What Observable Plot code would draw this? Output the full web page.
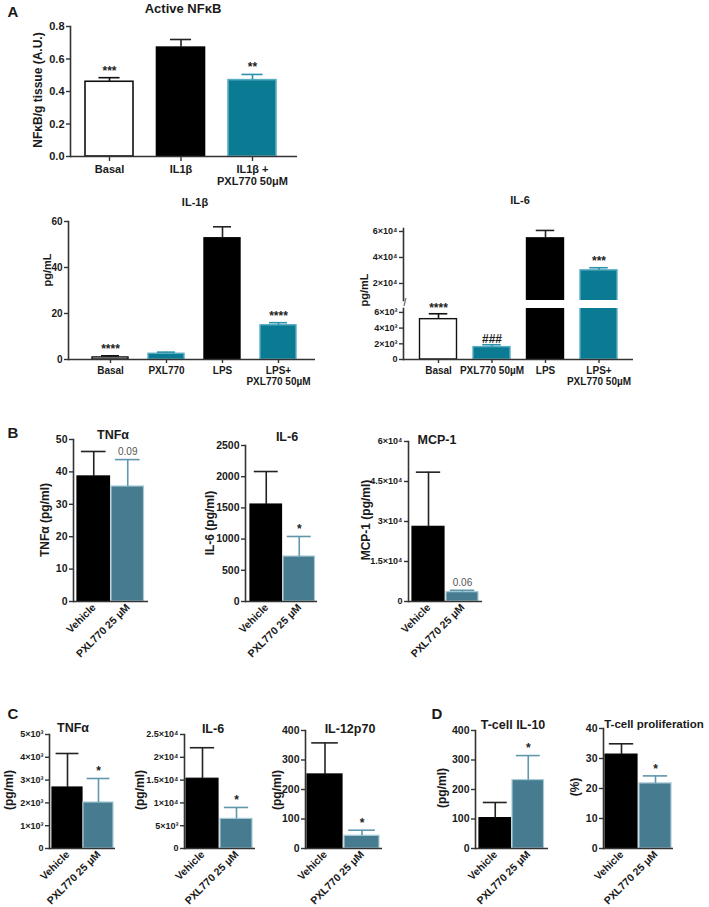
<!DOCTYPE html>
<html><head><meta charset="utf-8">
<script src="https://cdn.jsdelivr.net/npm/d3@7"></script>
<script src="https://cdn.jsdelivr.net/npm/@observablehq/plot@0.6"></script>
<style>
body{margin:0;background:#fff;}
#fig{position:relative;width:709px;height:907px;overflow:hidden;font-family:"Liberation Sans",Arial,sans-serif;color:#1a1a1a;}
#fig svg{position:absolute;overflow:visible;}
.t{position:absolute;transform:translate(-50%,-50%);white-space:nowrap;font-weight:bold;line-height:1;}
.r{transform:translate(-50%,-50%) rotate(-90deg);}
</style></head><body><div id="fig"></div>
<script>
// ---------- DATA ----------
// Panel A: Active NFkB
const nfkbCats = ["Basal", "IL1β", "IL1β +\nPXL770 50μM"];
const nfkbVals = [0.46, 0.67, 0.47];
const nfkbSems = [0.025, 0.05, 0.035];
const nfkbNotes = ["***", "", "**"];
const nfkbTicks = [0, 0.2, 0.4, 0.6, 0.8];
// Panel A: IL-1β
const il1Cats = ["Basal", "PXL770", "LPS", "LPS+\nPXL770 50µM"];
const il1Vals = [0.9, 2.5, 52.7, 14.9];
const il1Sems = [0.7, 0.7, 5.0, 1.1];
const il1Notes = ["****", "", "", "****"];
const il1Ticks = [0, 20, 40, 60];
// Panel A: IL-6 (broken axis)
const il6aCats = ["Basal", "PXL770 50µM", "LPS", "LPS+\nPXL770 50µM"];
const il6aVals = [5140, 1580, 54700, 30100];
const il6aSems = [690, 300, 6100, 2000];
const il6aNotesHi = ["", "", "", "***"];
const il6aNotesLo = ["****", "###", "", ""];
const il6aTicksHi = [20000, 40000, 60000];
const il6aTicksLo = [0, 2000, 4000, 6000];
// Panels B, C, D: two groups
const grpCats = ["Vehicle", "PXL770 25 μM"];
const bTnfVals = [38.6, 35.5], bTnfSems = [7.7, 8.3], bTnfNotes = ["", "0.09"];
const bTnfTicks = [0, 10, 20, 30, 40, 50];
const bIl6Vals = [1554, 721], bIl6Sems = [529, 321], bIl6Notes = ["", "*"];
const bIl6Ticks = [0, 500, 1000, 1500, 2000, 2500];
const bMcpVals = [28000, 3500], bMcpSems = [20500, 700], bMcpNotes = ["", "0.06"];
const bMcpTicks = [0, 15000, 30000, 45000, 60000];
const cTnfVals = [2675, 2018], cTnfSems = [1492, 1052], cTnfNotes = ["", "*"];
const cTnfTicks = [0, 1000, 2000, 3000, 4000, 5000];
const cIl6Vals = [15300, 6500], cIl6Sems = [6800, 2500], cIl6Notes = ["", "*"];
const cIl6Ticks = [0, 5000, 10000, 15000, 20000, 25000];
const cIl12Vals = [251, 43], cIl12Sems = [107, 19], cIl12Notes = ["", "*"];
const cIl12Ticks = [0, 100, 200, 300, 400];
const dIl10Vals = [103, 232], dIl10Sems = [53, 83], dIl10Notes = ["", "*"];
const dIl10Ticks = [0, 100, 200, 300, 400];
const dProVals = [31.3, 21.7], dProSems = [3.6, 2.5], dProNotes = ["", "*"];
const dProTicks = [0, 10, 20, 30, 40];

// ---------- STYLE ----------
const WHITE = "#ffffff", BLACK = "#000000", TEAL = "#0b7b94", BLUE = "#477b90";
const style = {
  white: {fill: WHITE, stroke: "#111", ec: "#111"},
  black: {fill: BLACK, stroke: BLACK, ec: "#222"},
  teal: {fill: TEAL, stroke: "#5aaec2", ec: "#2a92ab"},
  blue: {fill: BLUE, stroke: "#a9cbd7", ec: "#5f97ad"}
};
const sup = {"0":"⁰","1":"¹","2":"²","3":"³","4":"⁴","5":"⁵","6":"⁶","7":"⁷","8":"⁸","9":"⁹"};
function sci(d) {
  if (d === 0) return "0";
  const e = Math.floor(Math.log10(d) + 1e-9);
  const m = +(d / Math.pow(10, e)).toFixed(2);
  return m + "×10" + String(e).split("").map(c => sup[c]).join("");
}
const plain = d => String(d);
const f1 = d3.format(".1f");

const fig = document.getElementById("fig");

function panel(o) {
  const left = o.ax - (o.ml ?? 55), top = o.yt - (o.mt ?? 25);
  const width = o.ex + (o.mr ?? 8) - left;
  const height = o.yb + (o.mb ?? 65) - top;
  const n = o.cats.length, p = 1 - o.W / o.S;
  const r0 = o.L - left - p * o.S, r1 = r0 + o.S * (n + p);
  const data = o.cats.map((c, i) => ({
    c, v: o.vals[i], e: o.vals[i] + o.sems[i],
    fill: o.kinds[i].fill, stroke: o.kinds[i].stroke, ec: o.kinds[i].ec,
    note: o.notes ? o.notes[i] : ""
  }));
  const y0 = o.y0 ?? 0;
  const cap = o.W * (o.capInset ?? 0.27);
  const fs = o.fs ?? 10;
  const isP = d => /^0\./.test(d.note);
  const marks = [
    Plot.barY(data, {x: "c", y: "v", fill: "fill", stroke: "stroke", strokeWidth: o.bsw ?? 1.2, clip: true}),
    Plot.ruleX(data, {x: "c", y1: "v", y2: "e", stroke: "ec", strokeWidth: 1.6, clip: true}),
    Plot.tickY(data, {x: "c", y: "e", stroke: "ec", strokeWidth: 1.6, insetLeft: cap, insetRight: cap, clip: true}),
    Plot.frame({anchor: "left", stroke: "#333", strokeWidth: 1.6}),
    Plot.axisY({ticks: o.ticks, tickFormat: o.fmt, tickSize: 4, tickPadding: 2, fontSize: o.yfs ?? fs, label: null, stroke: "#333", strokeWidth: 1.4})
  ];
  if (o.xaxis !== false) {
    marks.push(Plot.ruleY([y0], {stroke: "#333", strokeWidth: 1.6}));
    marks.push(Plot.axisX({tickSize: o.xtick ?? 0, tickPadding: o.xpad ?? 3, tickRotate: o.rot ? -45 : 0,
      fontSize: o.xfs ?? fs, label: null, stroke: "#333", strokeWidth: 1.4, lineHeight: 1.1}));
  }
  marks.push(Plot.text(data.filter(d => d.note && !isP(d)), {x: "c", y: "e", text: "note", dy: o.noteDy ?? -7,
    fill: "#222", fontWeight: "bold", fontSize: 12}));
  marks.push(Plot.text(data.filter(isP), {x: "c", y: "e", text: "note", dy: -8,
    fill: "#555", fontWeight: "normal", fontSize: 10}));
  if (o.extra) marks.push(...o.extra);
  const svg = Plot.plot({
    width, height,
    marginLeft: o.ax - left, marginRight: left + width - o.ex,
    marginTop: o.yt - top, marginBottom: top + height - o.yb,
    x: {type: "band", domain: o.cats, range: [r0, r1], padding: p, round: false, label: null, axis: null},
    y: {domain: [y0, o.ymax], label: null, axis: null},
    color: {type: "identity"},
    style: {fontFamily: "'Liberation Sans', Arial, sans-serif", fontWeight: "bold", color: "#1a1a1a", background: "transparent", overflow: "visible"},
    marks
  });
  svg.style.left = left + "px";
  svg.style.top = top + "px";
  fig.append(svg);
}

function label(text, x, y, size, rot, extra) {
  const d = document.createElement("div");
  d.className = "t" + (rot ? " r" : "");
  d.textContent = text;
  d.style.left = x + "px";
  d.style.top = y + "px";
  d.style.fontSize = size + "px";
  if (extra) Object.assign(d.style, extra);
  fig.append(d);
}

// ---------- PANEL A ----------
panel({cats: nfkbCats, vals: nfkbVals, sems: nfkbSems, notes: nfkbNotes,
  kinds: [style.white, style.black, style.teal],
  ax: 70, ex: 297, yt: 26, yb: 156, ymax: 0.8, ticks: nfkbTicks, fmt: f1,
  L: 85, W: 48, S: 71.5, xtick: 5, fs: 11, capInset: 0.28, bsw: 1.6});

panel({cats: il1Cats, vals: il1Vals, sems: il1Sems, notes: il1Notes,
  kinds: [style.white, style.teal, style.black, style.teal],
  ax: 68, ex: 315, yt: 221, yb: 359, ymax: 60, ticks: il1Ticks, fmt: plain,
  L: 92, W: 36, S: 56, xtick: 4, fs: 10, capInset: 0.25, bsw: 1.4});

// IL-6 upper segment
panel({cats: il6aCats, vals: il6aVals, sems: il6aSems, notes: il6aNotesHi,
  kinds: [style.white, style.teal, style.black, style.teal],
  ax: 403, ex: 633, yt: 228, yb: 300, y0: 6900, ymax: 62300, ticks: il6aTicksHi, fmt: sci,
  L: 419.5, W: 37, S: 53.5, xaxis: false, yfs: 9, mb: 10, capInset: 0.25, bsw: 1.4,
  extra: [Plot.text(["/"], {frameAnchor: "bottom-left", dy: 5, fontSize: 10, fontWeight: "normal", text: d => d})]});
// IL-6 lower segment
panel({cats: il6aCats, vals: il6aVals, sems: il6aSems, notes: il6aNotesLo,
  kinds: [style.white, style.teal, style.black, style.teal],
  ax: 403, ex: 633, yt: 308, yb: 359, ymax: 6500, ticks: il6aTicksLo, fmt: sci,
  L: 419.5, W: 37, S: 53.5, xtick: 4, fs: 10, yfs: 9, mt: 10, capInset: 0.25, bsw: 1.4, noteDy: -6});

label("A", 13, 11, 15);
label("Active NFκB", 183, 8, 13);
label("NFκB/g tissue (A.U.)", 38, 90, 12, true);
label("IL-1β", 195, 202, 11);
label("pg/mL", 47, 270, 11, true);
label("IL-6", 520, 200, 11);
label("pg/mL", 364, 290, 11, true);

// ---------- PANEL B ----------
panel({cats: grpCats, vals: bTnfVals, sems: bTnfSems, notes: bTnfNotes,
  kinds: [style.black, style.blue],
  ax: 73, ex: 148, yt: 439, yb: 601, ymax: 50, ticks: bTnfTicks, fmt: plain,
  L: 77, W: 32.5, S: 34, rot: true, fs: 10.5, capInset: 0.12, xpad: 4});
panel({cats: grpCats, vals: bIl6Vals, sems: bIl6Sems, notes: bIl6Notes,
  kinds: [style.black, style.blue],
  ax: 245, ex: 317, yt: 445, yb: 601, ymax: 2500, ticks: bIl6Ticks, fmt: plain,
  L: 250, W: 31.5, S: 33, rot: true, fs: 10.5, capInset: 0.12, xpad: 4});
panel({cats: grpCats, vals: bMcpVals, sems: bMcpSems, notes: bMcpNotes,
  kinds: [style.black, style.blue],
  ax: 408, ex: 482, yt: 441, yb: 601, ymax: 60000, ticks: bMcpTicks, fmt: sci,
  L: 412, W: 32, S: 34, rot: true, fs: 10.5, yfs: 9, capInset: 0.12, xpad: 4});

label("B", 13, 432, 15);
label("TNFα", 113, 435, 12.5);
label("TNFα (pg/ml)", 45, 520, 12, true);
label("IL-6", 287, 437, 12.5);
label("IL-6 (pg/ml)", 210, 523, 12, true);
label("MCP-1", 437, 440, 12.5);
label("MCP-1 (pg/ml)", 366, 520, 12, true);

// ---------- PANEL C ----------
panel({cats: grpCats, vals: cTnfVals, sems: cTnfSems, notes: cTnfNotes,
  kinds: [style.black, style.blue],
  ax: 49, ex: 115, yt: 734, yb: 848, ymax: 5000, ticks: cTnfTicks, fmt: sci,
  L: 52, W: 30, S: 31, rot: true, fs: 10.5, yfs: 9, capInset: 0.12, xpad: 4});
panel({cats: grpCats, vals: cIl6Vals, sems: cIl6Sems, notes: cIl6Notes,
  kinds: [style.black, style.blue],
  ax: 184, ex: 255, yt: 734, yb: 848, ymax: 25000, ticks: cIl6Ticks, fmt: sci,
  L: 186, W: 32, S: 34, rot: true, fs: 10.5, yfs: 9, capInset: 0.12, xpad: 4});
panel({cats: grpCats, vals: cIl12Vals, sems: cIl12Sems, notes: cIl12Notes,
  kinds: [style.black, style.blue],
  ax: 305, ex: 382, yt: 730, yb: 848, ymax: 400, ticks: cIl12Ticks, fmt: plain,
  L: 307, W: 35, S: 37, rot: true, fs: 10.5, capInset: 0.12, xpad: 4});

label("C", 13, 713, 15);
label("TNFα", 73, 728, 12.5);
label("(pg/ml)", 9, 790, 12, true);
label("IL-6", 213, 729, 12.5);
label("(pg/ml)", 140, 790, 12, true);
label("IL-12p70", 350, 729, 12.5);
label("(pg/ml)", 277, 790, 12, true);

// ---------- PANEL D ----------
panel({cats: grpCats, vals: dIl10Vals, sems: dIl10Sems, notes: dIl10Notes,
  kinds: [style.black, style.blue],
  ax: 475, ex: 548, yt: 730, yb: 848, ymax: 400, ticks: dIl10Ticks, fmt: plain,
  L: 479, W: 31.5, S: 33, rot: true, fs: 10.5, capInset: 0.12, xpad: 4});
panel({cats: grpCats, vals: dProVals, sems: dProSems, notes: dProNotes,
  kinds: [style.black, style.blue],
  ax: 603, ex: 673, yt: 728, yb: 848, ymax: 40, ticks: dProTicks, fmt: plain,
  L: 605, W: 32, S: 34, rot: true, fs: 10.5, capInset: 0.12, xpad: 4});

label("D", 437, 713, 15);
label("T-cell IL-10", 513, 725, 12.5);
label("(pg/ml)", 442, 788, 12, true);
label("T-cell proliferation", 654, 725, 11.5);
label("(%)", 575, 787, 12, true);
</script></body></html>
